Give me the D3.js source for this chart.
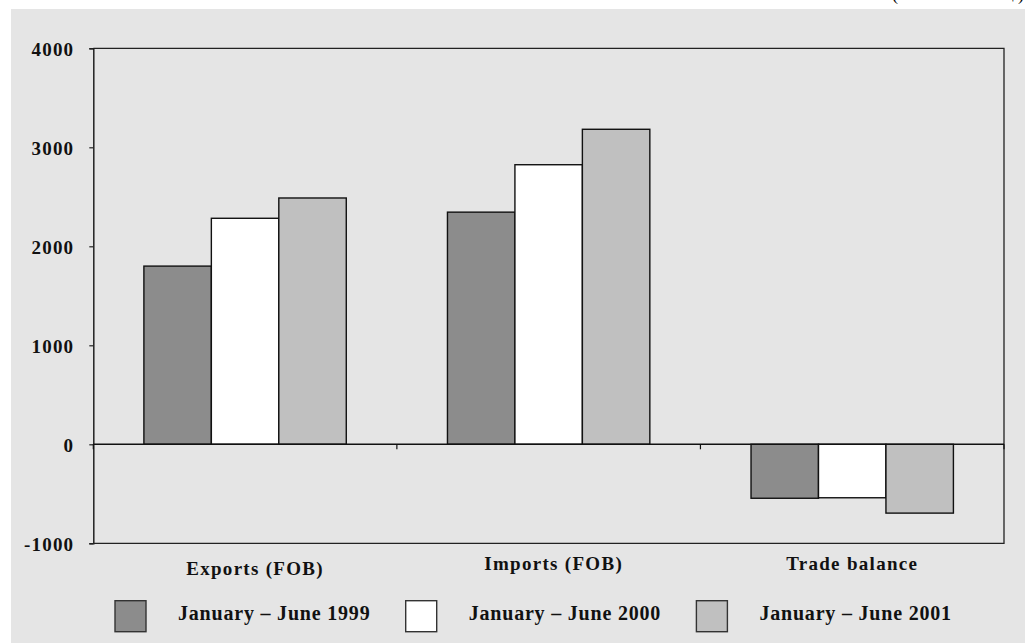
<!DOCTYPE html>
<html>
<head>
<meta charset="utf-8">
<script src="https://cdn.jsdelivr.net/npm/d3@7"></script>
<style>
  html, body { margin: 0; padding: 0; background: #ffffff; }
  svg { display: block; }
  text { font-family: "Liberation Serif", "Times New Roman", serif; }
</style>
</head>
<body>
<svg id="chart" width="1025" height="643"></svg>
<script>
// ---- data ----
const categories = ["Exports (FOB)", "Imports (FOB)", "Trade balance"];
const seriesNames = ["January \u2013 June 1999", "January \u2013 June 2000", "January \u2013 June 2001"];
const values1999 = [1800, 2345, -545];
const values2000 = [2283, 2824, -540];
const values2001 = [2488, 3182, -695];
const yTicks = [-1000, 0, 1000, 2000, 3000, 4000];
const unitLabel = "(in million US$)";

// ---- layout / style ----
(function () {
const seriesValues = [values1999, values2000, values2001];
const colors = ["#8c8c8c", "#ffffff", "#c0c0c0"];
const labelShift = [[10, 5], [5, 0], [0, 0]];
const W = 1025, H = 643;
const pLeft = 93.3, pRight = 1004, pTop = 48.3, pBottom = 543.3;

const svg = d3.select("#chart");

// outer background panel
svg.append("rect").attr("x", 11).attr("y", 9).attr("width", W - 11).attr("height", H - 9).attr("fill", "#e5e5e5");

// unit label (cut off at top)
svg.append("text").attr("x", 892).attr("y", 0)
  .attr("font-size", 18).attr("fill", "#000")
  .attr("textLength", 132).attr("lengthAdjust", "spacing")
  .text(unitLabel);

const y = d3.scaleLinear().domain([-1000, 4000]).range([pBottom, pTop]);
const x0 = d3.scaleBand().domain(categories).range([pLeft, pRight]).paddingInner(0).paddingOuter(0);
const x1 = d3.scaleBand().domain(seriesNames).range([0, x0.bandwidth()]).paddingInner(0).paddingOuter(0.75);

// plot border (top, right, bottom)
svg.append("path")
  .attr("d", `M${pLeft},${pTop}H${pRight}V${pBottom}H${pLeft}`)
  .attr("fill", "none").attr("stroke", "#222").attr("stroke-width", 1.3);

// bars
const rows = [];
categories.forEach((c, ci) => {
  seriesNames.forEach((s, si) => rows.push({ c, s, si, v: seriesValues[si][ci] }));
});
svg.append("g").selectAll("rect").data(rows).join("rect")
  .attr("x", d => x0(d.c) + x1(d.s))
  .attr("y", d => y(Math.max(0, d.v)))
  .attr("width", x1.bandwidth())
  .attr("height", d => Math.abs(y(d.v) - y(0)))
  .attr("fill", d => colors[d.si])
  .attr("stroke", "#111").attr("stroke-width", 1.4);

// y axis
const yAxis = svg.append("g").attr("transform", `translate(${pLeft},0)`)
  .call(d3.axisLeft(y).tickValues(yTicks).tickSize(4).tickPadding(15).tickFormat(d => String(d)));
yAxis.select(".domain").attr("stroke", "#222").attr("stroke-width", 1.5);
yAxis.selectAll(".tick line").attr("stroke", "#222").attr("stroke-width", 1.2);
yAxis.selectAll(".tick text")
  .attr("font-family", "'Liberation Serif', 'Times New Roman', serif")
  .attr("font-size", 19).attr("font-weight", "bold").attr("fill", "#111")
  .attr("letter-spacing", 1.2).attr("dy", "0.36em");

// zero line with category separator ticks
svg.append("line").attr("x1", pLeft).attr("x2", pRight).attr("y1", y(0)).attr("y2", y(0))
  .attr("stroke", "#111").attr("stroke-width", 1.4);
const bounds = categories.map(c => x0(c)).concat([pRight]);
svg.append("g").selectAll("line").data(bounds).join("line")
  .attr("x1", d => d).attr("x2", d => d)
  .attr("y1", y(0)).attr("y2", y(0) + 5)
  .attr("stroke", "#111").attr("stroke-width", 1.2);

// category labels
svg.append("g").selectAll("text").data(categories).join("text")
  .attr("x", (d, i) => x0(d) + x0.bandwidth() / 2 + labelShift[i][0])
  .attr("y", (d, i) => 570 + labelShift[i][1])
  .attr("text-anchor", "middle")
  .attr("font-size", 19).attr("font-weight", "bold").attr("fill", "#111")
  .attr("letter-spacing", 1.3)
  .text(d => d);

// legend
const lx = d3.scalePoint().domain(seriesNames).range([115, 696.4]);
const lg = svg.append("g").selectAll("g").data(seriesNames).join("g")
  .attr("transform", d => `translate(${lx(d)},600.7)`);
lg.append("rect").attr("width", 31).attr("height", 31)
  .attr("fill", (d, i) => colors[i]).attr("stroke", "#333").attr("stroke-width", 1.4);
lg.append("text").attr("x", 63).attr("y", 19.8)
  .attr("font-size", 20).attr("font-weight", "bold").attr("fill", "#111")
  .attr("letter-spacing", 0.8)
  .text(d => d);
})();
</script>
</body>
</html>
